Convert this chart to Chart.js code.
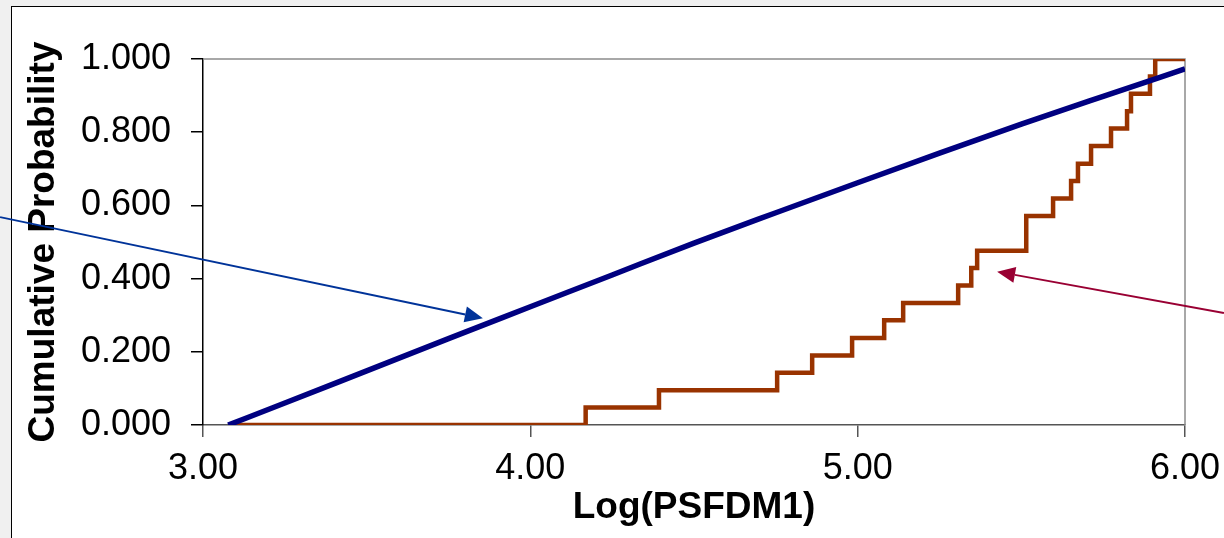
<!DOCTYPE html>
<html>
<head>
<meta charset="utf-8">
<script src="https://cdn.jsdelivr.net/npm/chart.js@4.4.1/dist/chart.umd.min.js"></script>
<style>
  html, body { margin: 0; padding: 0; background: #f0f0f0; overflow: hidden; }
  #frame { position: absolute; left: 11px; top: 6px; width: 1240px; height: 560px;
           background: #fff; border: 1px solid #000; }
  #cdf { position: absolute; left: 0; top: 0; }
</style>
</head>
<body>
<div id="frame"></div>
<canvas id="cdf" width="1224" height="538"></canvas>
<script>
// tick labels
const xTickLabels = ['3.00', '4.00', '5.00', '6.00'];
const yTickLabels = ['0.000', '0.200', '0.400', '0.600', '0.800', '1.000'];

// fitted distribution (blue)
const fitX = [3.077, 3.25, 3.50, 3.75, 4.00, 4.25, 4.50, 4.75, 5.00, 5.25, 5.50, 5.75, 6.00];
const fitP = [0.000, 0.060, 0.148, 0.236, 0.323, 0.410, 0.497, 0.580, 0.662, 0.743, 0.822, 0.898, 0.973];

// observed data, empirical cdf (brown steps)
const obsX = [3.077, 4.169, 4.393, 4.754, 4.861, 4.983, 5.081, 5.139, 5.307, 5.347, 5.365, 5.515, 5.597, 5.652, 5.673, 5.713, 5.774, 5.823, 5.835, 5.893, 5.909, 6.000];
const obsP = [0.000, 0.048, 0.095, 0.143, 0.190, 0.238, 0.286, 0.333, 0.381, 0.429, 0.476, 0.571, 0.619, 0.667, 0.714, 0.762, 0.810, 0.857, 0.905, 0.952, 1.000, 1.000];

const toPoints = (xs, ys) => xs.map((x, i) => ({ x: x, y: ys[i] }));

// arrows (in data units) + plot frame on top/right
const annotations = {
  id: 'annotations',
  beforeDatasetsDraw(chart) {
    const { ctx, chartArea: a } = chart;
    ctx.save();
    ctx.strokeStyle = '#8c8c8c';
    ctx.lineWidth = 1.5;
    ctx.beginPath();
    ctx.moveTo(a.left, a.top);
    ctx.lineTo(a.right, a.top);
    ctx.lineTo(a.right, a.bottom);
    ctx.stroke();
    ctx.restore();
  },
  afterDatasetsDraw(chart) {
    const { ctx, scales: { x, y } } = chart;
    const arrows = [
      { from: [2.38, 0.568], to: [3.855, 0.292], color: '#003399' },
      { from: [6.119, 0.306], to: [5.426, 0.419], color: '#990033' }
    ];
    arrows.forEach(ar => {
      const x0 = x.getPixelForValue(ar.from[0]), y0 = y.getPixelForValue(ar.from[1]);
      const x1 = x.getPixelForValue(ar.to[0]), y1 = y.getPixelForValue(ar.to[1]);
      const ang = Math.atan2(y1 - y0, x1 - x0);
      const len = 18, half = 8;
      const bx = x1 - len * Math.cos(ang), by = y1 - len * Math.sin(ang);
      ctx.save();
      ctx.strokeStyle = ar.color;
      ctx.fillStyle = ar.color;
      ctx.lineWidth = 2;
      ctx.beginPath();
      ctx.moveTo(x0, y0);
      ctx.lineTo(bx, by);
      ctx.stroke();
      ctx.beginPath();
      ctx.moveTo(x1, y1);
      ctx.lineTo(bx + half * Math.sin(ang), by - half * Math.cos(ang));
      ctx.lineTo(bx - half * Math.sin(ang), by + half * Math.cos(ang));
      ctx.closePath();
      ctx.fill();
      ctx.restore();
    });
  }
};

const tickFont = { family: "'Liberation Sans', Arial, sans-serif", size: 36 };
const titleFont = { family: "'Liberation Sans', Arial, sans-serif", size: 37, weight: 'bold' };

new Chart(document.getElementById('cdf'), {
  type: 'line',
  data: {
    datasets: [{
      label: 'Fitted',
      data: toPoints(fitX, fitP),
      borderColor: '#000080',
      borderWidth: 5.5,
      pointRadius: 0,
      cubicInterpolationMode: 'monotone'
    }, {
      label: 'Observed',
      data: toPoints(obsX, obsP),
      borderColor: '#993300',
      borderWidth: 4.5,
      pointRadius: 0,
      stepped: 'before'
    }]
  },
  options: {
    responsive: false,
    animation: false,
    layout: { padding: { left: 0, right: 39, top: 59, bottom: 0 } },
    plugins: { legend: { display: false }, tooltip: { enabled: false } },
    scales: {
      x: {
        type: 'linear',
        min: 3, max: 6,
        afterFit: s => { s.height = 113; s.paddingLeft = 0; s.paddingRight = 0; },
        afterBuildTicks: s => { s.ticks = xTickLabels.map(t => ({ value: parseFloat(t) })); },
        ticks: {
          color: '#000', font: tickFont, padding: 10, maxRotation: 0,
          callback: (v, i) => xTickLabels[i]
        },
        grid: { drawOnChartArea: false, drawTicks: true, tickLength: 12, color: '#555', lineWidth: 1.5 },
        border: { color: '#555', width: 1.5 },
        title: { display: true, text: 'Log(PSFDM1)', color: '#000', font: titleFont, padding: { top: 0, bottom: 8 } }
      },
      y: {
        min: 0, max: 1,
        afterFit: s => { s.width = 203; s.paddingTop = 0; s.paddingBottom = 0; },
        afterBuildTicks: s => { s.ticks = yTickLabels.map(t => ({ value: parseFloat(t) })); },
        ticks: {
          color: '#000', font: tickFont, padding: 20,
          callback: (v, i) => yTickLabels[i]
        },
        grid: { drawOnChartArea: false, drawTicks: true, tickLength: 12, color: '#000', lineWidth: 1.5 },
        border: { color: '#000', width: 1.5 },
        title: { display: true, text: 'Cumulative Probability', color: '#000', font: titleFont, padding: { top: 22, bottom: 0 } }
      }
    }
  },
  plugins: [annotations]
});
</script>
</body>
</html>
